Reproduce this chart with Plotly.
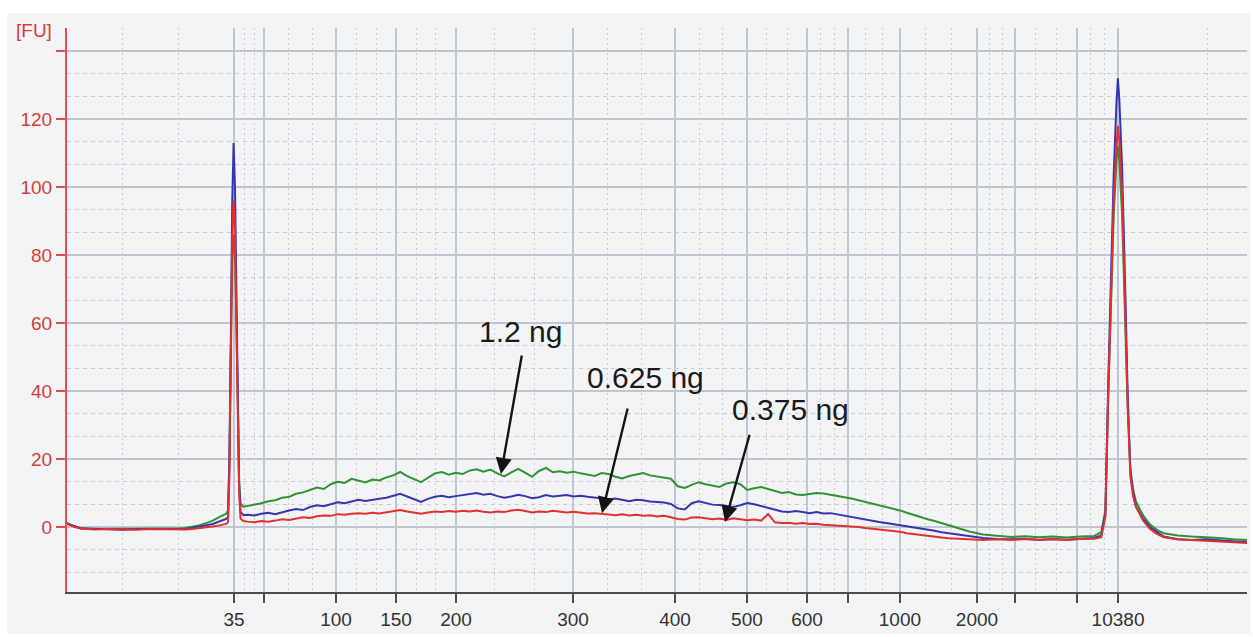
import plotly.graph_objects as go

# ---------------- data (migration time in s, fluorescence in FU) ----------------
T_left = [40, 40.5, 41, 42, 43, 44, 45, 46, 47, 48, 48.5, 49, 49.5, 50, 50.5, 51,
          51.5, 51.6, 51.7, 51.8, 51.9, 52.0, 52.1, 52.2, 52.3, 52.4, 52.5, 52.7]
G_left = [1.2, 0.3, -0.3, -0.6, -0.5, -0.6, -0.5, -0.4, -0.5, -0.4, -0.3, 0.0, 0.5, 1.1, 1.9, 3.0,
          4.0, 5.0, 20, 50, 78, 86, 80, 62, 35, 14, 7.0, 6.0]
B_left = [1.0, 0.2, -0.4, -0.5, -0.7, -0.8, -0.6, -0.7, -0.6, -0.6, -0.6, -0.3, 0.0, 0.5, 0.9, 1.6,
          2.5, 3.0, 20, 55, 95, 113, 100, 70, 35, 12, 4.5, 3.5]
R_left = [1.0, 0.1, -0.4, -0.7, -0.6, -0.7, -0.8, -0.6, -0.7, -0.7, -0.7, -0.6, -0.4, 0.0, 0.2, 0.5,
          1.0, 1.5, 15, 50, 85, 96, 88, 60, 30, 10, 2.5, 1.8]

T_mid = [53.0, 53.5, 54.0, 54.5, 55.0, 55.5, 56.0, 56.5, 57.0, 57.5,
         58.0, 58.5, 59.0, 59.5, 60.0, 60.5, 61.0, 61.5, 62.0, 62.5,
         63.0, 63.5, 64.0, 64.5, 65.0, 65.5, 66.0, 66.5, 67.0, 67.5,
         68.0, 68.5, 69.0, 69.5, 70.0, 70.5, 71.0, 71.5, 72.0, 72.5,
         73.0, 73.5, 74.0, 74.5, 75.0, 75.5, 76.0, 76.5, 77.0, 77.5,
         78.0, 78.5, 79.0, 79.5, 80.0, 80.5, 81.0, 81.5, 82.0, 82.5,
         83.0, 83.5, 84.0, 84.5, 85.0, 85.5, 86.0, 86.5, 87.0, 87.5,
         88.0, 88.5, 89.0, 89.5, 90.0, 90.5, 91.0, 91.5, 92.0, 92.5,
         93.0, 93.5, 94.0, 94.5, 95.0, 95.5, 96.0, 96.5, 97.0, 97.5,
         98.0, 98.5, 99.0, 99.5, 100.0, 100.5, 101.0, 101.5, 102.0, 102.5,
         103.0, 103.5, 104.0]
G_mid = [6.2, 6.5, 7.0, 7.6, 7.9, 8.6, 8.9, 9.8, 10.2, 10.9,
         11.6, 11.2, 12.6, 13.3, 13.0, 14.2, 13.6, 13.1, 14.0, 13.7,
         14.6, 15.2, 16.2, 15.0, 14.1, 13.2, 14.5, 15.8, 16.2, 15.4,
         16.0, 15.6, 16.6, 17.0, 16.3, 16.9, 15.8, 14.9, 16.1, 17.1,
         16.0, 14.8, 16.5, 17.4, 16.1, 16.4, 16.0, 16.3, 15.8, 15.3,
         15.0, 15.9, 15.6, 14.8, 14.3, 15.0, 15.5, 15.9, 15.2, 14.9,
         14.6, 14.2, 12.0, 11.5, 12.4, 13.2, 12.6, 12.1, 11.8, 12.8,
         13.2, 12.6, 10.9, 11.4, 11.8, 11.2, 10.5, 10.0, 10.3, 9.6,
         9.4, 9.8, 10.0, 9.9, 9.6, 9.2, 8.8, 8.4, 7.9, 7.5,
         7.0, 6.5, 6.0, 5.5, 4.9, 4.2, 3.5, 2.9, 2.3, 1.8,
         1.2, 0.6, 0.1]
B_mid = [3.6, 3.4, 3.9, 4.2, 3.8, 4.4, 4.9, 5.3, 5.0, 5.9,
         6.4, 6.1, 6.8, 7.3, 7.0, 7.6, 8.0, 7.7, 7.9, 8.3,
         8.6, 9.1, 9.8, 9.0, 8.1, 7.4, 8.3, 8.9, 9.2, 8.8,
         9.1, 9.4, 9.6, 10.0, 9.5, 9.8, 9.1, 8.6, 9.0, 9.5,
         9.1, 8.5, 8.8, 9.4, 9.0, 9.3, 9.4, 9.0, 9.2, 8.9,
         8.6, 8.5, 8.2, 8.4, 7.9, 7.6, 8.0, 7.9, 7.5, 7.4,
         7.2, 6.8, 5.5, 5.2, 7.0, 7.6, 7.1, 6.6, 6.5, 6.2,
         5.9, 6.4, 7.1, 6.7, 6.2, 5.6, 5.0, 4.6, 4.4, 4.7,
         4.4, 4.1, 4.4, 4.0, 4.1, 3.7, 3.4, 3.0, 2.6, 2.2,
         1.9, 1.5, 1.2, 0.9, 0.5, 0.2, 0.0, -0.4, -0.8, -1.1,
         -1.5, -1.8, -2.1]
R_mid = [1.6, 1.4, 1.8, 1.6, 1.9, 2.3, 2.1, 2.6, 2.9, 2.7,
         3.2, 3.4, 3.3, 3.8, 3.6, 3.9, 4.1, 3.9, 4.2, 4.0,
         4.3, 4.6, 5.0, 4.6, 4.2, 3.9, 4.3, 4.6, 4.4, 4.7,
         4.5, 4.8, 4.6, 4.9, 4.5, 4.3, 4.6, 4.4, 4.9, 5.1,
         4.7, 4.3, 4.6, 4.4, 4.8, 4.6, 4.3, 4.5, 4.2, 4.0,
         4.1, 3.8, 3.7, 3.5, 3.8, 3.4, 3.6, 3.3, 3.5, 3.1,
         3.3, 2.9, 2.4, 2.2, 2.8, 2.9, 2.6, 2.3, 2.5, 2.1,
         2.6, 2.4, 2.0, 2.2, 1.9, 3.8, 1.4, 1.2, 1.3, 1.0,
         1.2, 0.9, 1.0, 0.7, 0.6, 0.5, 0.3, 0.2, 0.0, -0.3,
         -0.5, -0.9, -1.0, -1.3, -1.4, -1.8, -2.1, -2.4, -2.6, -2.9,
         -3.1, -3.3, -3.4]

T_right = [105, 106, 107, 108, 109, 110, 111, 112, 113, 114,
           114.5, 114.8, 115.0, 115.2, 115.4, 115.6, 115.7, 115.8, 116.0, 116.2,
           116.4, 116.6, 116.8, 117.0,
           117.5, 118, 118.5, 119, 120, 121, 122, 123, 124, 125]
G_right = [-1.3, -2.2, -2.6, -2.9, -2.7, -3.0, -2.8, -3.1, -2.8, -2.6,
           -1.5, 5, 38, 66, 92, 108, 112, 108, 92, 64,
           36, 17, 11, 7.5,
           3.5, 0.8, -0.8, -1.8, -2.5, -2.8, -2.9, -3.2, -3.6, -3.8]
B_right = [-2.8, -3.2, -3.5, -3.6, -3.4, -3.8, -3.5, -3.7, -3.4, -3.2,
           -2.5, 4, 42, 74, 104, 125, 132, 126, 106, 75,
           40, 16, 10, 6,
           2.5, 0, -1.5, -2.8, -3.6, -3.8, -3.6, -3.9, -4.2, -4.5]
R_right = [-3.6, -3.8, -3.6, -3.8, -3.5, -3.7, -3.6, -3.8, -3.5, -3.4,
           -3.0, 3, 38, 68, 96, 112, 118, 114, 98, 68,
           36, 15, 9, 6,
           2, -0.5, -2, -3, -3.6, -3.8, -4.0, -4.2, -4.5, -4.7]

# size-ladder positions on the time axis and their labels [bp]
LADDER_T = [52.03, 54.19, 59.38, 63.70, 68.02, 76.45, 83.80, 88.98, 93.31,
            96.26, 100.0, 105.55, 108.29, 112.75, 115.71]
LADDER_LABELS = ["35", "", "100", "150", "200", "300", "400", "500", "600",
                 "", "1000", "2000", "", "", "10380"]

Y_TICKS = [0, 20, 40, 60, 80, 100, 120, 140]
Y_LABELS = ["0", "20", "40", "60", "80", "100", "120", ""]

SERIES_NAMES = ["1.2 ng", "0.625 ng", "0.375 ng"]

X_RANGE = [40, 125]
Y_RANGE = [-19.1, 146.8]

# ---------------- figure ----------------
T = T_left + T_mid + T_right
series = [
    (SERIES_NAMES[0], G_left + G_mid + G_right, "#2f9332"),
    (SERIES_NAMES[1], B_left + B_mid + B_right, "#3535b0"),
    (SERIES_NAMES[2], R_left + R_mid + R_right, "#e3302f"),
]

fig = go.Figure()
for name, vals, col in series:
    fig.add_trace(go.Scatter(x=T, y=vals, mode="lines", name=name,
                             line=dict(color=col, width=2), hoverinfo="skip"))

# minor grid positions: thirds between ladder lines
bounds = [X_RANGE[0]] + LADDER_T
x_minor = []
for a, b in zip(bounds[:-1], bounds[1:]):
    x_minor += [a + (b - a) / 3, a + 2 * (b - a) / 3]
x_minor.append(122.19)
y_minor = []
for v in range(-20, 160, 20):
    y_minor += [v + 20 / 3, v + 40 / 3]

grid_major = "#c3c6d2"
grid_minor = "#cbccd1"
TICK_FONT = "Tahoma, Verdana, 'DejaVu Sans', sans-serif"
TICK_FONT = "Liberation Sans, Arial, sans-serif"

fig.update_xaxes(
    range=X_RANGE, tickmode="array", tickvals=LADDER_T, ticktext=LADDER_LABELS,
    showline=True, linecolor="#4d4d4d", linewidth=2,
    ticks="outside", ticklen=9, tickwidth=1.5, tickcolor="#4d4d4d",
    tickfont=dict(family=TICK_FONT, size=19, color="#333333"),
    showgrid=True, gridcolor=grid_major, gridwidth=1.5, zeroline=False,
    minor=dict(tickmode="array", tickvals=x_minor, showgrid=True,
               gridcolor=grid_minor, gridwidth=1, griddash="2px,3px", ticks=""),
)
fig.update_yaxes(
    range=Y_RANGE, tickmode="array", tickvals=Y_TICKS, ticktext=Y_LABELS,
    showline=True, linecolor="#e0504b", linewidth=2,
    ticks="outside", ticklen=9, tickwidth=1.5, tickcolor="#e0504b",
    tickfont=dict(family=TICK_FONT, size=19, color="#d63c38"),
    showgrid=True, gridcolor=grid_major, gridwidth=1.5, zeroline=False,
    minor=dict(tickmode="array", tickvals=y_minor, showgrid=True,
               gridcolor=grid_minor, gridwidth=1, griddash="4px,4px", ticks=""),
)

annos = [
    # FU unit label
    dict(text="[FU]", xref="paper", yref="paper", x=-0.028, y=0.995,
         showarrow=False, xanchor="center", yanchor="middle",
         font=dict(family=TICK_FONT, size=19, color="#d63c38")),
    # series labels
    dict(text=SERIES_NAMES[0], x=72.70, y=57.6, xref="x", yref="y", showarrow=False,
         font=dict(family="Liberation Sans, Arial, sans-serif", size=30, color="#1a1a1a")),
    dict(text=SERIES_NAMES[1], x=81.67, y=44.0, xref="x", yref="y", showarrow=False,
         font=dict(family="Liberation Sans, Arial, sans-serif", size=30, color="#1a1a1a")),
    dict(text=SERIES_NAMES[2], x=92.12, y=34.6, xref="x", yref="y", showarrow=False,
         font=dict(family="Liberation Sans, Arial, sans-serif", size=30, color="#1a1a1a")),
]
arrows = [((72.78, 50.9), (71.26, 15.6)),
          ((80.41, 35.3), (78.54, 4.1)),
          ((89.20, 27.6), (87.40, 1.5))]
for (tx, ty), (hx, hy) in arrows:
    annos.append(dict(text="", x=hx, y=hy, ax=tx, ay=ty, xref="x", yref="y",
                      axref="x", ayref="y", showarrow=True, arrowhead=2,
                      arrowsize=1.35, arrowwidth=2.4, arrowcolor="#151515", standoff=0))

fig.update_layout(
    width=1253, height=637,
    margin=dict(l=67, r=6, t=28, b=45),
    paper_bgcolor="#ffffff", plot_bgcolor="#f8f9fa",
    showlegend=False, annotations=annos,
    shapes=[dict(type="rect", xref="paper", yref="paper",
                 x0=-0.0508, x1=1.003, y0=-0.0745, y1=1.0266,
                 fillcolor="#f3f4f6", line=dict(width=0), layer="below")],
)

fig.write_html("out.html", config={"displayModeBar": False})
